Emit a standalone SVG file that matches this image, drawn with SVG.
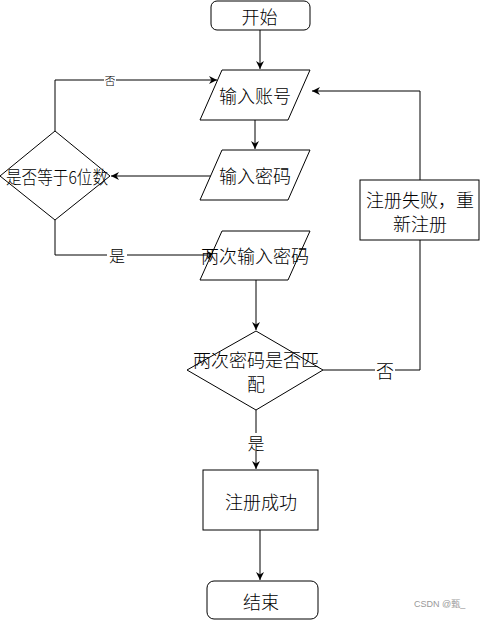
<svg xmlns="http://www.w3.org/2000/svg" width="481" height="621" viewBox="0 0 481 621">
<defs>
<marker id="arr" markerWidth="10" markerHeight="10" refX="9" refY="5" orient="auto" markerUnits="userSpaceOnUse">
<path d="M1,1 L9,5 L1,9 L3.5,5 Z" fill="#000"/>
</marker>
</defs>
<style>
.s{fill:#fff;stroke:#000;stroke-width:1}
.t{font-family:"Noto Sans CJK SC","Liberation Sans",sans-serif;font-weight:300;font-size:18px;fill:#000;text-anchor:middle;dominant-baseline:central}
.c{fill:none;stroke:#000;stroke-width:1;marker-end:url(#arr)}
.l{fill:none;stroke:#000;stroke-width:1}
.lb{font-family:"Noto Sans CJK SC","Liberation Sans",sans-serif;font-weight:300;fill:#000;text-anchor:middle;dominant-baseline:central}
</style>
<rect width="481" height="621" fill="#fff"/>
<g id="connectors">
<path class="c" d="M260,30 L260,69"/>
<path class="c" d="M255,120 L255,149"/>
<path class="c" d="M212,176 L111,176"/>
<path class="c" d="M55,131 L55,80 L217,80"/>
<path class="c" d="M55,220 L55,255 L215,255"/>
<path class="c" d="M256,280 L256,330"/>
<path class="l" d="M323,370 L420,370 L420,240"/>
<path class="c" d="M420,180 L420,91 L312,91"/>
<path class="c" d="M256,410 L256,469"/>
<path class="c" d="M260,530 L260,580"/>
<rect x="104" y="73" width="12" height="14" fill="#fff"/>
<text class="lb" x="110" y="80" font-size="11">否</text>
<rect x="107" y="246" width="20" height="18" fill="#fff"/>
<text class="lb" x="117" y="255" font-size="16">是</text>
<rect x="375" y="361" width="20" height="18" fill="#fff"/>
<text class="lb" x="385" y="370" font-size="18">否</text>
<rect x="247" y="433" width="18" height="18" fill="#fff"/>
<text class="lb" x="256" y="442" font-size="17">是</text>
</g>
<g id="start">
<rect class="s" x="211" y="1" width="99" height="29" rx="6"/>
<text class="t" x="259.5" y="16" font-size="19">开始</text>
</g>
<g id="input-account">
<polygon class="s" points="222,70 310,70 288,120 200,120"/>
<text class="t" x="255" y="95">输入账号</text>
</g>
<g id="input-password">
<polygon class="s" points="222,150 310,150 288,200 200,200"/>
<text class="t" x="255" y="175">输入密码</text>
</g>
<g id="check-length">
<polygon class="s" points="55,131 110,176 55,220 0,176"/>
<text class="t" x="57" y="176" font-size="16" textLength="102" lengthAdjust="spacingAndGlyphs">是否等于6位数</text>
</g>
<g id="input-again">
<polygon class="s" points="222,231 310,231 288,280 200,280"/>
<text class="t" x="255" y="255">两次输入密码</text>
</g>
<g id="check-match">
<polygon class="s" points="256,331 323,370 256,410 187,370"/>
<text class="t" x="256" y="359" font-size="17">两次密码是否匹</text>
<text class="t" x="256" y="383" font-size="17">配</text>
</g>
<g id="fail">
<rect class="s" x="360" y="180" width="119" height="60"/>
<text class="t" x="420" y="199" font-size="19">注册失败，重</text>
<text class="t" x="420" y="223" font-size="19">新注册</text>
</g>
<g id="success">
<rect class="s" x="203" y="470" width="115" height="60"/>
<text class="t" x="261" y="501" font-size="20">注册成功</text>
</g>
<g id="end">
<rect class="s" x="207" y="581" width="111" height="38" rx="7"/>
<text class="t" x="261" y="601" font-size="22">结束</text>
</g>
<text x="414" y="607" font-family="Liberation Sans,Noto Sans CJK SC,sans-serif" font-size="9" fill="#999">CSDN @甄_</text>
</svg>
